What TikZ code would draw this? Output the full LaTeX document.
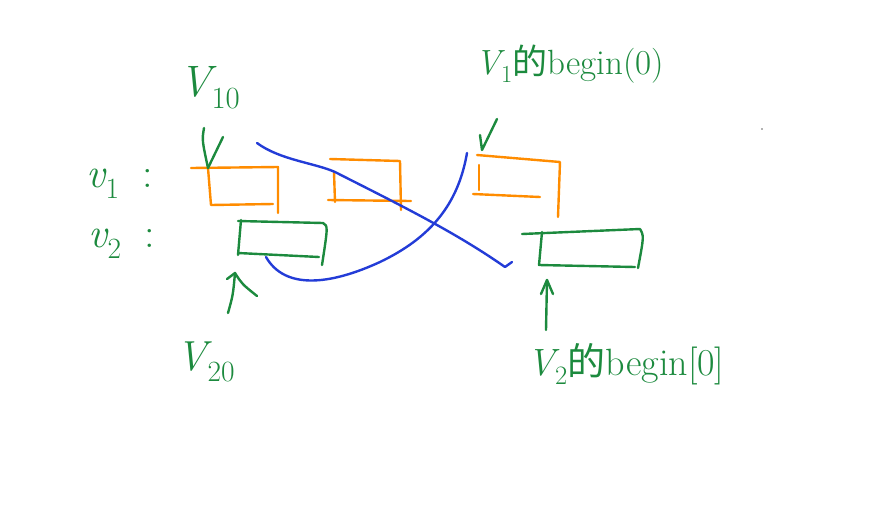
\documentclass[tikz,border=0pt]{standalone}
\usepackage{fontspec}
\newfontfamily\cjk{Noto Sans CJK SC}
\definecolor{pgreen}{RGB}{28,138,62}
\definecolor{porange}{RGB}{255,140,0}
\definecolor{pblue}{RGB}{35,60,215}
\tikzset{
  pen/.style={line width=2.4pt, line cap=round, line join=round},
  og/.style={pen, draw=porange},
  gr/.style={pen, draw=pgreen},
  bl/.style={pen, draw=pblue},
  lab/.style={text=pgreen, inner sep=0pt}
}
\newcommand{\fsz}[1]{\fontsize{#1}{#1}\selectfont}
\newcommand{\vv}[2]{{\itshape #1}\textsubscript{#2}}
\begin{document}
\begin{tikzpicture}[x=1pt,y=-1pt]
\useasboundingbox (0,0) rectangle (878,504);
% labels
\node[lab, font=\fsz{44}] (v10) at (210,88) {\vv{V}{10}};
\node[lab, font=\fsz{42}] (v1) at (120,184) {\vv{v}{1}\;\;:};
\node[lab, font=\fsz{42}] (v2) at (122,244) {\vv{v}{2}\;\;:};
\node[lab, font=\fsz{42}] (v20) at (206,362) {\vv{V}{20}};
\node[lab, font=\fsz{35}] (v1b) at (570,64) {\vv{V}{1}{\cjk 的}begin(0)};
\node[lab, font=\fsz{38}] (v2b) at (626,364) {\vv{V}{2}{\cjk 的}begin[0]};
% orange box 1
\draw[og] (191,168) -- (278,167) -- (278,213);
\draw[og] (208,168) -- (211,205) -- (273,204);
% orange box 2
\draw[og] (330,159) -- (400,161) -- (401,210);
\draw[og] (334,172) -- (335,202);
\draw[og] (328,200) -- (411,201);
% orange box 3
\draw[og] (477,155) -- (560,162) -- (558,217);
\draw[og] (479,165) -- (479,190);
\draw[og] (473,194) -- (540,197);
% green box 1
\draw[gr] (238,221) -- (323,223) .. controls (328,226) .. (322,265);
\draw[gr] (241,220) -- (238,255);
\draw[gr] (238,253) -- (319,257);
% green box 2
\draw[gr] (522,234) -- (640,229) .. controls (644,236) .. (638,268);
\draw[gr] (542,232) -- (539,265) -- (635,267);
% blue curves
\draw[bl] (257,143) .. controls (280,160) and (315,163) .. (335,172)
  .. controls (400,205) and (455,232) .. (505,267) -- (512,262);
\draw[bl] (266,257) .. controls (285,290) and (330,285) .. (380,262)
  .. controls (430,238) and (458,205) .. (467,153);
% arrows
\coordinate (a1) at (204,128);
\coordinate (a1t) at (208,168);
\draw[gr] (a1) .. controls (202,140) .. (a1t);
\draw[gr] (223,137) -- (a1t);
\coordinate (a2) at (497,119);
\coordinate (a2t) at (482,150);
\draw[gr] (a2) -- (a2t) -- (480,135);
\coordinate (a3) at (228,313);
\coordinate (a3t) at (235,273);
\draw[gr] (a3) .. controls (233,295) .. (a3t);
\draw[gr] (227,279) -- (a3t) .. controls (242,284) .. (257,296);
\coordinate (a4) at (546,330);
\coordinate (a4t) at (547,280);
\draw[gr] (a4) -- (a4t);
\draw[gr] (541,294) -- (a4t) -- (553,294);
\fill[black!60] (762,129) circle (0.9);
\end{tikzpicture}
\end{document}
